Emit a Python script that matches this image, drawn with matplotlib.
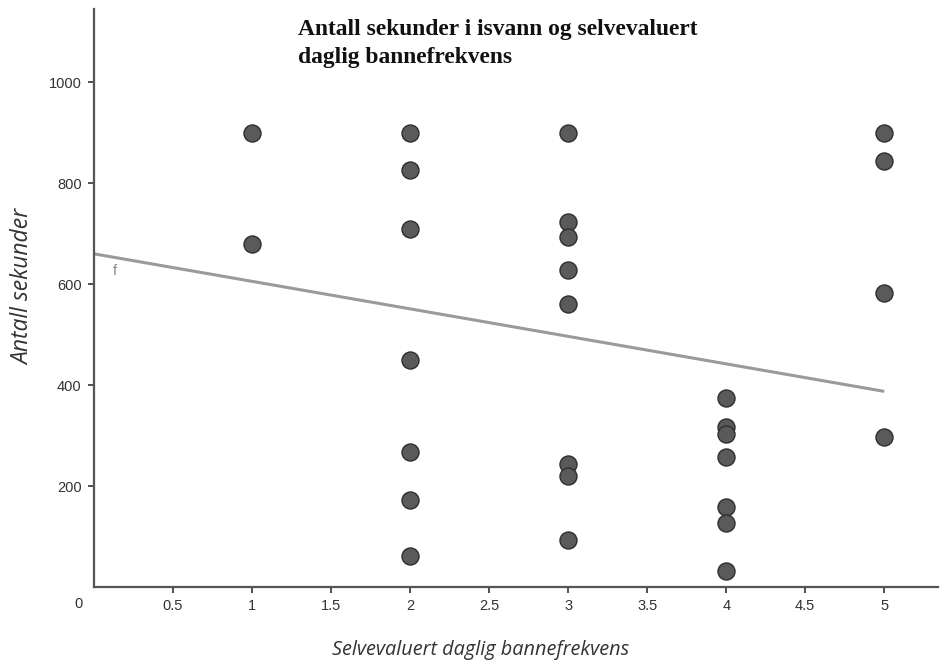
import matplotlib
matplotlib.use("Agg")
import matplotlib.pyplot as plt
import numpy as np

# Data
x_vals = [1, 1,
          2, 2, 2, 2, 2, 2, 2,
          3, 3, 3, 3, 3, 3, 3, 3,
          4, 4, 4, 4, 4, 4, 4,
          5, 5, 5, 5]
y_vals = [900, 680,
          900, 826, 710, 450, 268, 172, 61,
          900, 723, 693, 628, 560, 243, 220, 93,
          374, 317, 304, 258, 159, 126, 32,
          900, 843, 583, 298]

# Trend line f (as drawn)
fit_intercept = 660
fit_slope = -54.5
fit_range = [0, 5]

x_ticks = [0.5, 1, 1.5, 2, 2.5, 3, 3.5, 4, 4.5, 5]
x_tick_labels = ["0.5", "1", "1.5", "2", "2.5", "3", "3.5", "4", "4.5", "5"]
y_ticks = [200, 400, 600, 800, 1000]
y_tick_labels = ["200", "400", "600", "800", "1000"]

title_lines = "Antall sekunder i isvann og selvevaluert\ndaglig bannefrekvens"
x_label = "Selvevaluert daglig bannefrekvens"
y_label = "Antall sekunder"

fig = plt.figure(figsize=(9.41, 6.60), dpi=100)
ax = fig.add_axes([94/941, 1 - 587/660, (938 - 94)/941, (587 - 9)/660])

ax.set_xlim(0, 5.34)
ax.set_ylim(0, 1145)

for s in ["top", "right"]:
    ax.spines[s].set_visible(False)
for s in ["left", "bottom"]:
    ax.spines[s].set_color("#555555")
    ax.spines[s].set_linewidth(1.6)

# trend line
fx = np.array(fit_range, dtype=float)
ax.plot(fx, fit_intercept + fit_slope * fx, color="#9a9a9a", lw=2.2,
        solid_capstyle="butt", zorder=2, clip_on=False)
ax.text(0.13, fit_intercept + fit_slope * 0.13 - 14, "f", color="#8a8a8a",
        fontsize=10.5, family="Liberation Sans", ha="center", va="top")

# points
ax.scatter(x_vals, y_vals, s=150, facecolor="#5a5a5a", edgecolor="#2e2e2e",
           linewidths=1.0, zorder=3, clip_on=False)

ax.set_xticks(x_ticks)
ax.set_xticklabels(x_tick_labels)
ax.set_yticks(y_ticks)
ax.set_yticklabels(y_tick_labels)
ax.tick_params(axis="both", colors="#333333", labelcolor="#333333",
               length=4, width=1.2, labelsize=10.5, pad=5)
for lab in ax.get_xticklabels() + ax.get_yticklabels():
    lab.set_family("Liberation Sans")

# origin label
ax.annotate("0", xy=(0, 0), xytext=(-11, -12), textcoords="offset points",
            ha="center", va="center", fontsize=10.5, color="#333333",
            family="Liberation Sans", annotation_clip=False)

fig.text(298/941, 1 - 19/660, title_lines, ha="left", va="top",
         fontsize=16.9, fontweight="bold", family="Liberation Serif",
         linespacing=1.45, color="#111111")

fig.text(481/941, 1 - 650/660, x_label, ha="center", va="center",
         fontsize=14.3, style="italic", family="Open Sans", color="#333333")
fig.text(23/941, 1 - 287/660, y_label, ha="center", va="center",
         rotation=90, fontsize=16.5, style="italic", family="Open Sans",
         color="#333333")

fig.savefig("out.png", dpi=100, facecolor="white")
